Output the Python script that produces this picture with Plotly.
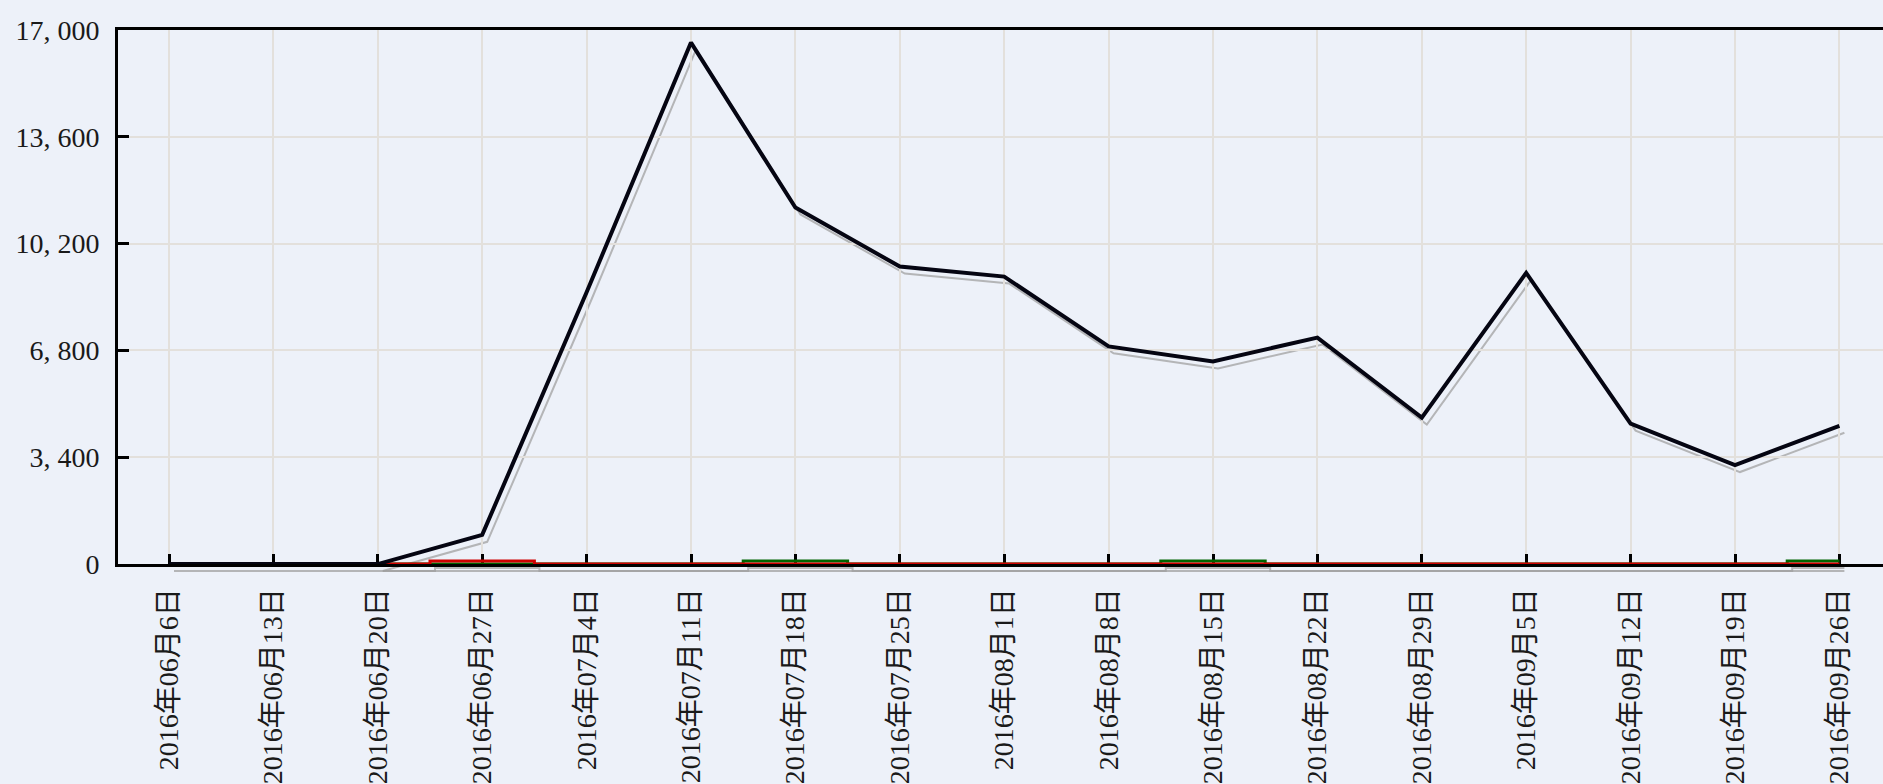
import plotly.graph_objects as go

# ---- data ----
weeks = ["2016年06月6日", "2016年06月13日", "2016年06月20日", "2016年06月27日",
         "2016年07月4日", "2016年07月11日", "2016年07月18日", "2016年07月25日",
         "2016年08月1日", "2016年08月8日", "2016年08月15日", "2016年08月22日",
         "2016年08月29日", "2016年09月5日", "2016年09月12日", "2016年09月19日",
         "2016年09月26日"]
main_values = [0, 0, 0, 930, 8650, 16600, 11350, 9470, 9150, 6930, 6450, 7210,
               4660, 9270, 4470, 3150, 4400]
red_values = [None, None, 0, 100, 0, 0, 0, 0, 0, 0, 0, 0, 0, 0, 0, 0, 0]
green_values = [None, None, 0, 0, 0, 0, 100, 0, 0, 0, 100, 0, 0, 0, 0, 0, 100]
y_tickvals = [0, 3400, 6800, 10200, 13600, 17000]
y_ticktext = ["0", "3, 400", "6, 800", "10, 200", "13, 600", "17, 000"]

# ---- layout geometry (pixels) ----
W, Hfig = 1883, 784
ML, MR, MT, MB = 118, 0, 30, 206
R = Hfig - MT - MB          # plotting region height
H = 538                     # main plot height (0 .. 17000)
YMAX = 17000
x_r0 = -0.4885
px_per_cat = 104.4
x_r1 = x_r0 + (W - ML - MR) / px_per_cat
SH_DX, SH_DY = 5, 7         # shadow offset in px

bg = "#edf1f9"
grid = "#e3e0dc"
font_fam = "Liberation Serif, 'Noto Sans CJK SC', serif"

fig = go.Figure()

# shadow traces (lower subplot x/y)
shadow_col = "rgba(160,160,160,0.75)"
for vals, shape in [(green_values, "hvh"), (red_values, "hvh"), (main_values, "linear")]:
    fig.add_trace(go.Scatter(x=weeks, y=vals, mode="lines", xaxis="x", yaxis="y",
                             line=dict(color=shadow_col, width=2, shape=shape),
                             hoverinfo="skip", showlegend=False))

# main traces (x2/y2)
fig.add_trace(go.Scatter(x=weeks, y=green_values, mode="lines", xaxis="x2", yaxis="y2",
                         line=dict(color="#006400", width=3, shape="hvh"),
                         showlegend=False))
fig.add_trace(go.Scatter(x=weeks, y=red_values, mode="lines", xaxis="x2", yaxis="y2",
                         line=dict(color="#d00000", width=3, shape="hvh"),
                         showlegend=False))
fig.add_trace(go.Scatter(x=weeks, y=main_values, mode="lines", xaxis="x2", yaxis="y2",
                         line=dict(color="#050512", width=4),
                         showlegend=False))

sh_bottom = YMAX - (R - SH_DY) * (YMAX / H)
fig.update_layout(
    width=W, height=Hfig,
    margin=dict(l=ML, r=MR, t=MT, b=MB, pad=0),
    paper_bgcolor=bg, plot_bgcolor="rgba(0,0,0,0)",
    showlegend=False,
    font=dict(family=font_fam, size=28, color="#1a1a1a"),
    xaxis=dict(type="category", categoryarray=weeks, domain=[0, 1],
               range=[x_r0 - SH_DX / px_per_cat, x_r1 - SH_DX / px_per_cat],
               visible=False, anchor="y"),
    yaxis=dict(domain=[0, 1 - SH_DY / R], range=[sh_bottom, YMAX],
               visible=False, anchor="x"),
    xaxis2=dict(type="category", categoryarray=weeks, domain=[0, 1],
                range=[x_r0, x_r1], anchor="y2",
                showline=True, linecolor="#000000", linewidth=3, mirror=True,
                ticks="inside", ticklen=10, tickwidth=2.5, tickcolor="#000000",
                showgrid=True, gridcolor=grid, gridwidth=2,
                tickangle=-90, ticklabelstandoff=10,
                tickfont=dict(family=font_fam, size=28, color="#1a1a1a"),
                layer="below traces", zeroline=False),
    yaxis2=dict(domain=[(R - H) / R, 1], range=[0, YMAX], anchor="x2",
                tickvals=y_tickvals, ticktext=y_ticktext,
                showline=True, linecolor="#000000", linewidth=3, mirror=False,
                ticks="inside", ticklen=11, tickwidth=2.5, tickcolor="#000000",
                showgrid=True, gridcolor=grid, gridwidth=2,
                ticklabelstandoff=10,
                tickfont=dict(family=font_fam, size=28, color="#1a1a1a"),
                layer="below traces", zeroline=False),
)

fig.write_html(
    "out.html",
    config={"displayModeBar": False},
    post_script="document.body.style.margin='0px';"
                "document.body.style.overflow='hidden';"
                "document.body.style.background='" + bg + "';",
)
